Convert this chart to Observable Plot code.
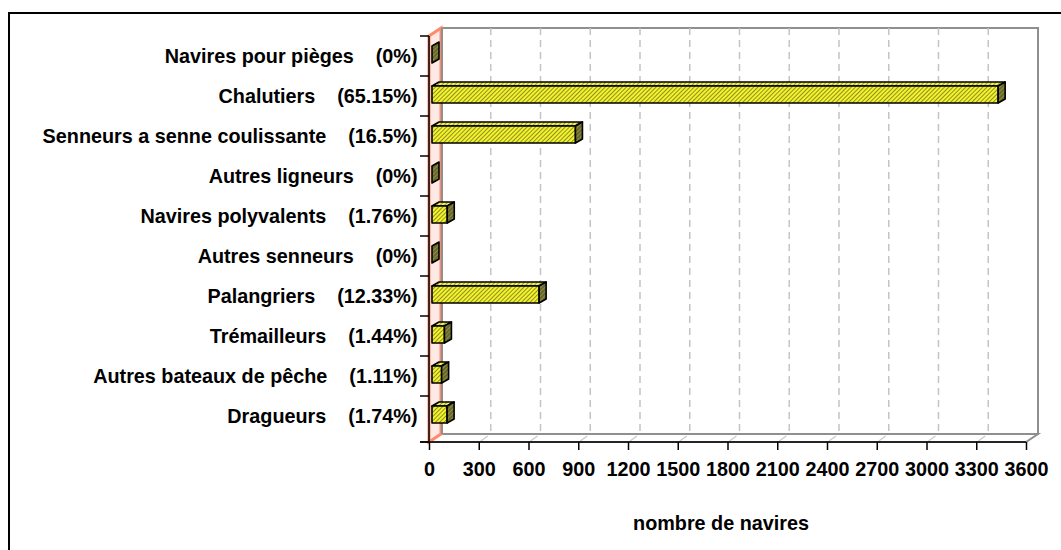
<!DOCTYPE html>
<html><head><meta charset="utf-8">
<script src="https://cdn.jsdelivr.net/npm/d3@7"></script>
<script src="https://cdn.jsdelivr.net/npm/@observablehq/plot@0.6"></script>
<style>
html,body{margin:0;padding:0;background:#fff;overflow:hidden;width:1061px;height:550px;}
#chart{position:absolute;left:0;top:0;}
#frame{position:absolute;left:8px;top:12px;width:1200px;height:700px;border:2px solid #000;box-sizing:border-box;pointer-events:none;}
</style></head><body>
<div id="chart"></div><div id="frame"></div>
<script>
// ---- data ----
const categories = [
  "Navires pour pièges",
  "Chalutiers",
  "Senneurs a senne coulissante",
  "Autres ligneurs",
  "Navires polyvalents",
  "Autres senneurs",
  "Palangriers",
  "Trémailleurs",
  "Autres bateaux de pêche",
  "Dragueurs"
];
const percentLabels = ["(0%)", "(65.15%)", "(16.5%)", "(0%)", "(1.76%)", "(0%)", "(12.33%)", "(1.44%)", "(1.11%)", "(1.74%)"];
const vessels = [0, 3414, 865, 0, 92, 0, 646, 75, 58, 91];
const xTicks = [0, 300, 600, 900, 1200, 1500, 1800, 2100, 2400, 2700, 3000, 3300, 3600];
const xTitle = "nombre de navires";

const rows = categories.map((c, i) => ({cat: c, pct: percentLabels[i], value: vessels[i]}));

// 3D depth of the walls and of the boxes (pixels)
const DX = 12, DY = -8;
const BDX = 7, BDY = -4, BAR_H = 17, BAR_OFF = 3;

// band centre from the plot's y scale (robust to start/centre conventions)
function bandInfo(Y, dim) {
  const bw = Math.abs(Y(categories[1]) - Y(categories[0]));
  const off = (dim.marginTop + bw / 2) - Y(categories[0]);
  return {bw, center: (c) => Y(c) + off};
}

function walls(index, scales, values, dim) {
  const X = scales.x, Y = scales.y;
  const {bw, center} = bandInfo(Y, dim);
  const x0 = X(xTicks[0]), x1 = X(xTicks[xTicks.length - 1]);
  const yT = dim.marginTop, yB = dim.height - dim.marginBottom;
  const g = d3.create("svg:g");
  const poly = (pts) => "M" + pts.map(p => p.join(",")).join("L") + "Z";
  // back wall
  g.append("path").attr("d", poly([[x0+DX,yT+DY],[x1+DX,yT+DY],[x1+DX,yB+DY],[x0+DX,yB+DY]]))
    .attr("fill", "#fff").attr("stroke", "#8f8f8f").attr("stroke-width", 2);
  // back grid
  for (const t of xTicks.slice(1, -1)) {
    g.append("line").attr("x1", X(t)+DX).attr("x2", X(t)+DX).attr("y1", yT+DY).attr("y2", yB+DY)
      .attr("stroke", "#c4c4c4").attr("stroke-width", 1.5).attr("stroke-dasharray", "7,5");
  }
  // floor
  g.append("path").attr("d", poly([[x0,yB],[x1,yB],[x1+DX,yB+DY],[x0+DX,yB+DY]]))
    .attr("fill", "#fff").attr("stroke", "#8f8f8f").attr("stroke-width", 2);
  for (const t of xTicks.slice(1, -1)) {
    g.append("line").attr("x1", X(t)+2).attr("y1", yB-1).attr("x2", X(t)+DX*0.75).attr("y2", yB+DY*0.75)
      .attr("stroke", "#c8c8c8").attr("stroke-width", 1.2);
  }
  // left wall
  g.append("path").attr("d", poly([[x0,yT],[x0+DX,yT+DY],[x0+DX,yB+DY],[x0,yB]]))
    .attr("fill", "#ffe9e4").attr("stroke", "#ff8a6a").attr("stroke-width", 3);
  g.append("line").attr("x1", x0+DX+1).attr("x2", x0+DX+1).attr("y1", yT+DY).attr("y2", yB+DY)
    .attr("stroke", "#8f8f8f").attr("stroke-width", 2);
  // axis lines and category boundary ticks
  g.append("line").attr("x1", x0).attr("x2", x0).attr("y1", yT).attr("y2", yB)
    .attr("stroke", "#000").attr("stroke-width", 1.5);
  const bounds = categories.map(c => center(c) - bw / 2).concat([yB]);
  for (const b of bounds) {
    g.append("line").attr("x1", x0-9).attr("x2", x0).attr("y1", b).attr("y2", b)
      .attr("stroke", "#000").attr("stroke-width", 1.5);
  }
  g.append("line").attr("x1", x0-9).attr("x2", x1).attr("y1", yB).attr("y2", yB)
    .attr("stroke", "#000").attr("stroke-width", 1.5);
  return g.node();
}

function boxes(index, scales, values, dim) {
  const X = scales.x, Y = scales.y;
  const {center} = bandInfo(Y, dim);
  const g = d3.create("svg:g");
  const defs = g.append("defs");
  const pat = (id, bg, fg) => {
    const p = defs.append("pattern").attr("id", id).attr("patternUnits", "userSpaceOnUse")
      .attr("width", 3).attr("height", 3).attr("patternTransform", "rotate(45)");
    p.append("rect").attr("width", 3).attr("height", 3).attr("fill", bg);
    p.append("rect").attr("width", 1).attr("height", 3).attr("fill", fg);
  };
  pat("hatchFront", "#f4f420", "#8c8c3c");
  pat("hatchTop", "#f8f840", "#9a9a48");
  pat("hatchSide", "#66662a", "#8e8e44");
  const poly = (pts) => "M" + pts.map(p => p.join(",")).join("L") + "Z";
  for (const r of rows) {
    const yc = center(r.cat) - 1.5;
    const fy0 = yc - BAR_H / 2, fy1 = yc + BAR_H / 2;
    const fx0 = X(0) + BAR_OFF, fx1 = X(r.value) + BAR_OFF;
    const st = (s) => s.attr("stroke", "#000").attr("stroke-width", 1.6).attr("stroke-linejoin", "round");
    if (r.value > 0) {
      st(g.append("path").attr("d", poly([[fx0,fy0],[fx1,fy0],[fx1+BDX,fy0+BDY],[fx0+BDX,fy0+BDY]]))
        .attr("fill", "url(#hatchTop)"));
      st(g.append("path").attr("d", poly([[fx0,fy0],[fx1,fy0],[fx1,fy1],[fx0,fy1]]))
        .attr("fill", "url(#hatchFront)"));
    }
    st(g.append("path").attr("d", poly([[fx1,fy0],[fx1+BDX,fy0+BDY],[fx1+BDX,fy1+BDY],[fx1,fy1]]))
      .attr("fill", "url(#hatchSide)"));
  }
  return g.node();
}

const chart = Plot.plot({
  width: 1061,
  height: 550,
  marginLeft: 429,
  marginRight: 35,
  marginTop: 36,
  marginBottom: 108,
  style: {fontFamily: "'Liberation Sans', Arial, sans-serif", fontSize: "19.8px", fontWeight: "bold", color: "#000", background: "transparent", overflow: "visible"},
  x: {domain: [xTicks[0], xTicks[xTicks.length - 1]]},
  y: {domain: categories, paddingInner: 0, paddingOuter: 0},
  marks: [
    walls,
    boxes,
    Plot.axisX({ticks: xTicks, tickSize: 8, tickPadding: 11, strokeWidth: 1.5, tickFormat: d3.format("d"), label: null}),
    Plot.axisY({tickSize: 0, tickPadding: 12, label: null, dy: -2.5,
      tickFormat: (d) => d + "\u00a0\u00a0\u00a0\u00a0" + rows.find(r => r.cat === d).pct}),
    Plot.text([xTitle], {text: d => d, frameAnchor: "bottom", dy: 87, dx: -7})
  ]
});
document.getElementById("chart").appendChild(chart);
</script>
</body></html>
